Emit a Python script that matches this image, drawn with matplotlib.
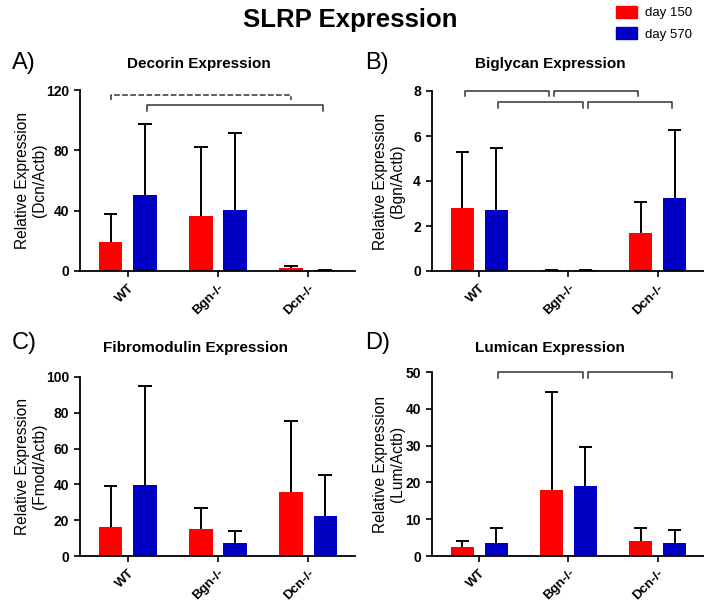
import numpy as np
import matplotlib
matplotlib.use("Agg")
import matplotlib.pyplot as plt
from matplotlib.patches import Patch

plt.rcParams['font.family'] = ['Liberation Sans', 'DejaVu Sans']

groups = ['WT', 'Bgn-/-', 'Dcn-/-']
series = ['day 150', 'day 570']
colors = ['#FF0000', '#0000C4']

# mean values and upper error bar ends (mean + sd), per panel
dcn_mean = [[19.2, 36.5, 2.0], [50.4, 40.5, 0.5]]
dcn_top = [[37.8, 82.0, 3.5], [97.5, 91.5, 0.7]]
bgn_mean = [[2.8, 0.03, 1.7], [2.7, 0.03, 3.25]]
bgn_top = [[5.3, 0.03, 3.07], [5.45, 0.03, 6.27]]
fmod_mean = [[16.0, 15.0, 35.8], [39.4, 7.5, 22.6]]
fmod_top = [[39.2, 27.0, 75.6], [94.8, 14.0, 45.5]]
lum_mean = [[2.4, 17.8, 4.0], [3.6, 19.0, 3.6]]
lum_top = [[4.2, 44.5, 7.5], [7.7, 29.6, 7.05]]

# significance brackets: (series index, group from, group to, height, style)
dcn_sig = [(0, 0, 2, 117, '--'), (1, 0, 2, 110, '-')]
bgn_sig = [(0, 0, 1, 8.0, '-'), (0, 1, 2, 8.0, '-'),
           (1, 0, 1, 7.5, '-'), (1, 1, 2, 7.5, '-')]
fmod_sig = []
lum_sig = [(1, 0, 1, 50, '-'), (1, 1, 2, 50, '-')]

W, H = 704, 610
fig = plt.figure(figsize=(W / 100, H / 100), dpi=100)

offset = 0.19
width = 0.26
cap = 0.075


def px_axes(x0, x1, y_top, y_bot):
    return fig.add_axes([x0 / W, 1 - y_bot / H, (x1 - x0) / W, (y_bot - y_top) / H])


def panel(ax, means, tops, ylim, yticks, ylab, sigs, label_x):
    x = np.arange(len(groups))
    for i in range(2):
        xs = x + (i * 2 - 1) * offset
        m = np.array(means[i])
        t = np.array(tops[i])
        ax.bar(xs, m, width=width, color=colors[i], zorder=2)
        # upper-only error bars
        ax.vlines(xs, m, t, color='black', lw=1.4, zorder=3)
        ax.hlines(t, xs - cap, xs + cap, color='black', lw=1.4, zorder=3)
    span = ylim[1] - ylim[0]
    for s, g0, g1, h, ls in sigs:
        xa = g0 + (s * 2 - 1) * offset
        xb = g1 + (s * 2 - 1) * offset
        gap = 0.025 if ls == '-' else 0
        ax.plot([xa + gap, xa + gap, xb - gap, xb - gap],
                [h - 0.03 * span, h, h, h - 0.03 * span],
                color='#333333', lw=1.1, ls=ls, clip_on=False)
    ax.set_xlim(-0.53, 2.52)
    ax.set_ylim(*ylim)
    ax.set_yticks(yticks)
    ax.set_xticks(x)
    ax.set_xticklabels(groups, rotation=45, ha='right', rotation_mode='anchor',
                       fontweight='bold', fontsize=9.5)
    for lab in ax.get_yticklabels():
        lab.set_fontweight('bold')
        lab.set_fontsize(10)
    ax.tick_params(direction='out', length=4.5, width=1.2)
    for sp in ['top', 'right']:
        ax.spines[sp].set_visible(False)
    for sp in ['left', 'bottom']:
        ax.spines[sp].set_linewidth(1.3)
    ax.set_ylabel(ylab, fontsize=11.2, linespacing=1.15)
    ax.yaxis.set_label_coords(label_x, 0.5)


axA = px_axes(80, 355, 90, 271)
axB = px_axes(432, 704, 91, 271)
axC = px_axes(80, 355, 377, 556)
axD = px_axes(432, 704, 372, 556)

panel(axA, dcn_mean, dcn_top, (0, 120), [0, 40, 80, 120],
      'Relative Expression\n(Dcn/Actb)', dcn_sig, -0.12)
panel(axB, bgn_mean, bgn_top, (0, 8), [0, 2, 4, 6, 8],
      'Relative Expression\n(Bgn/Actb)', bgn_sig, -0.10)
panel(axC, fmod_mean, fmod_top, (0, 100),
      [0, 20, 40, 60, 80, 100], 'Relative Expression\n(Fmod/Actb)', fmod_sig, -0.12)
panel(axD, lum_mean, lum_top, (0, 50),
      [0, 10, 20, 30, 40, 50], 'Relative Expression\n(Lum/Actb)', lum_sig, -0.10)

# panel titles and letters placed in pixel coordinates
titles = ['Decorin Expression', 'Biglycan Expression',
          'Fibromodulin Expression', 'Lumican Expression']
letters = ['A)', 'B)', 'C)', 'D)']
title_pos = [(199, 64), (550, 64), (196, 348), (550, 348)]
letter_pos = [(12, 63), (365, 63), (12, 343), (365, 343)]
for t, (tx, ty) in zip(titles, title_pos):
    fig.text(tx / W, 1 - ty / H, t, ha='center', va='center',
             fontsize=11, fontweight='bold')
for l, (lx, ly) in zip(letters, letter_pos):
    fig.text(lx / W, 1 - ly / H, l, ha='left', va='center', fontsize=17)

fig.text(350 / W, 1 - 20 / H, 'SLRP Expression', ha='center', va='center',
         fontsize=18.5, fontweight='bold')

handles = [Patch(color=c, label=l) for c, l in zip(colors, series)]
fig.legend(handles=handles, loc='upper right', bbox_to_anchor=(1.0, 1.01),
           frameon=False, fontsize=9.5, handlelength=1.6, handleheight=1.0,
           handletextpad=0.6, labelspacing=0.6)

fig.savefig('out.png', dpi=100)
